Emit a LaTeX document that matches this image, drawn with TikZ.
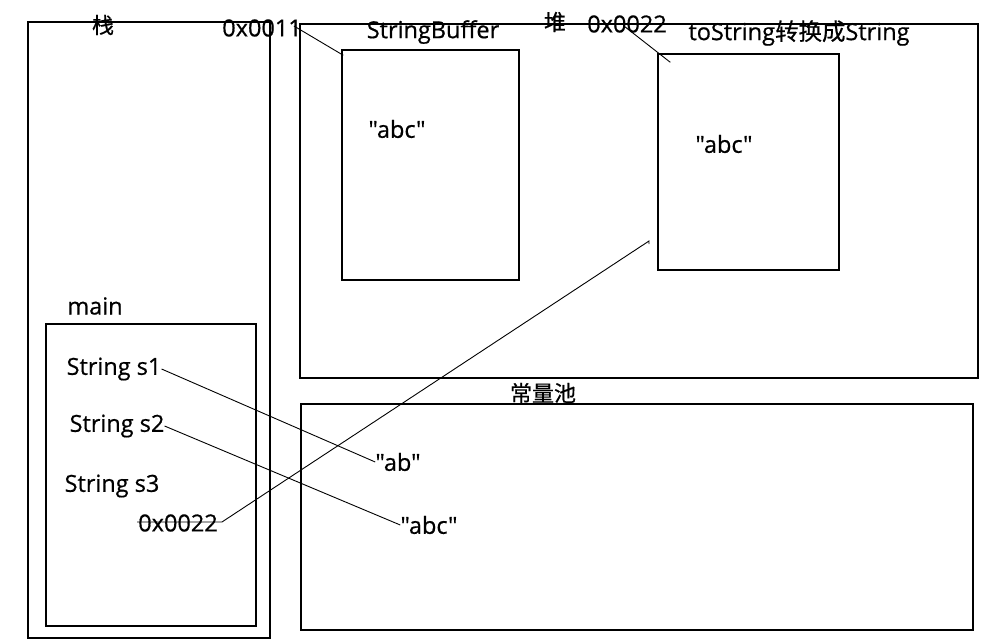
\documentclass[tikz,border=0pt]{standalone}
\usepackage{fontspec}
\newfontfamily\txtfont[FakeBold=0.6]{Open Sans}
\newfontfamily\cjk[FakeBold=0.6]{Noto Sans CJK SC}
\usetikzlibrary{positioning,calc}

\begin{document}
\begin{tikzpicture}[
  x=1pt, y=-1pt,
  every node/.style={font=\fontsize{23.5}{26}\selectfont\txtfont, inner sep=0pt},
  cn/.style={font=\fontsize{22}{26}\selectfont\cjk},
  area/.style={draw, line width=1.4pt, inner sep=0pt},
  link/.style={line width=0.9pt}
]
\useasboundingbox (0,0) rectangle (987,641);

% memory areas
\node[area, minimum width=242pt, minimum height=616pt] (stack) at (149,330) {};
\node[area, minimum width=678pt, minimum height=354pt] (heap)  at (639,201) {};
\node[area, minimum width=672pt, minimum height=226pt] (pool)  at (637,517) {};
\node[area, minimum width=210pt, minimum height=302pt] (mainf) at (151,475) {};
\node[area, minimum width=177pt, minimum height=230pt] (sbuf)  at (430.5,165) {};
\node[area, minimum width=181pt, minimum height=216pt] (tostr) at (748.5,162) {};

% titles
\node[cn] (stacklbl) at (103,25)  {栈};
\node[cn] (heaplbl)  at (555,22)  {堆};
\node[cn] (poollbl)  at (543,393) {常量池};
\node (mainlbl)  at (95,306)  {main};
\node (sbuflbl)  at (433,32)  {StringBuffer};
\node (tostrlbl) at (799,33)  {toString{\cjk 转换成}String};

% addresses
\node (adr1) at (262,28)  {0x0011};
\node (adr2) at (627,24)  {0x0022};

% contents
\node (sbabc) at (397,129) {"abc"};
\node (tsabc) at (724,144) {"abc"};
\node (s1)    at (114,369) {String s1};
\node (s2)    at (117,426) {String s2};
\node (s3)    at (112,486) {String s3};
\node (ptr)   at (178,523) {0x0022};
\node (ab)    at (398,462) {"ab"};
\node (abc)   at (429,525) {"abc"};

\coordinate (hook) at (649,241);

\draw[link] ($(adr1.east)+(-8,-2)$) -- ($(sbuf.north west)+(2,6)$);
\draw[link] ($(adr2.south)+(-2,-6)$) -- ($(tostr.north west)+(13,9)$);
\draw[link] (s1.east) -- (ab.west);
\draw[link] (s2.east) -- (abc.west);
\draw[link] ($(ptr.west)+(-1,-1)$) -- ($(ptr.east)+(4,-1)$) -- (hook) -- ++(0,3);

\end{tikzpicture}
\end{document}
